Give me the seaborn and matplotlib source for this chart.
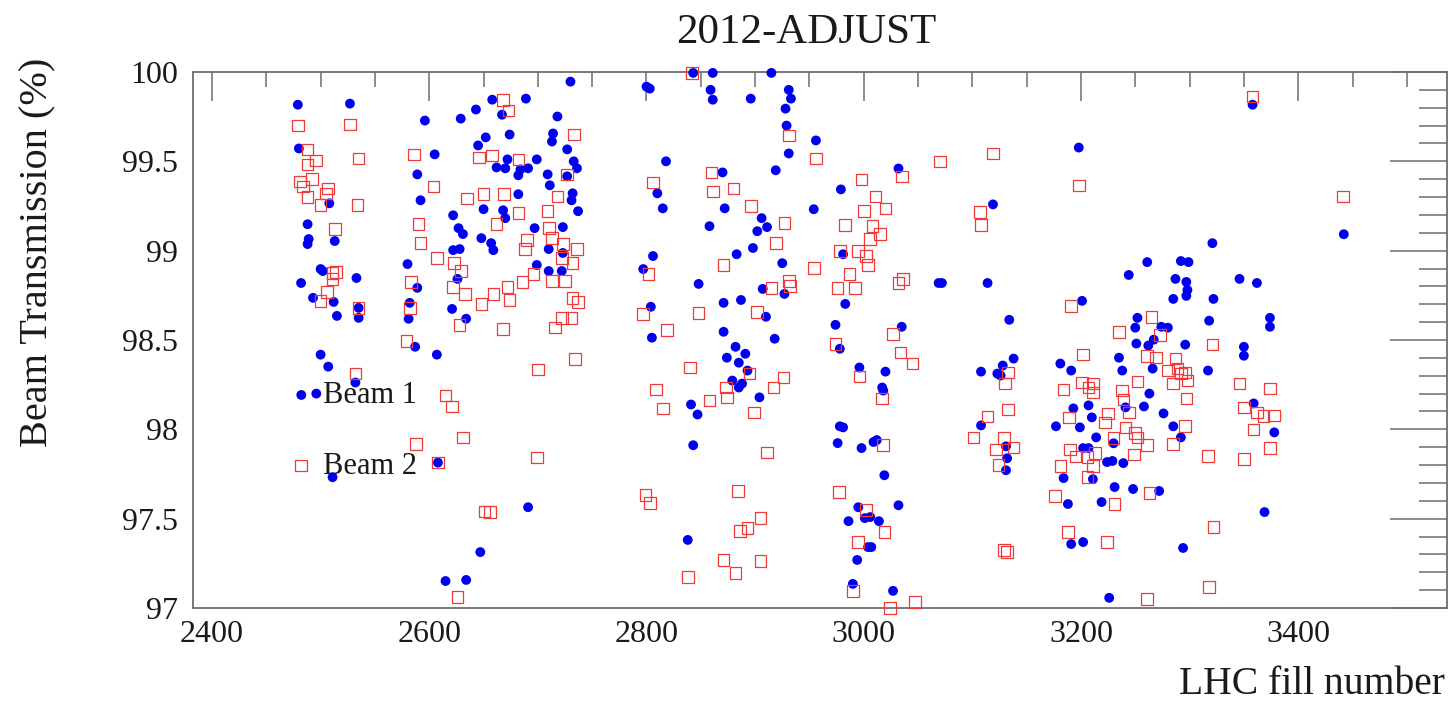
import numpy as np
import pandas as pd
import matplotlib
matplotlib.use("Agg")
import matplotlib.pyplot as plt
import seaborn as sns
from matplotlib.ticker import MultipleLocator, FixedLocator

# ---------------- data ----------------
beam1_fill = [
    2730, 2479, 2527, 2480, 2596, 2605, 2589, 2592, 2629, 2643, 2658, 2667, 2689, 2718, 2652, 2645,
    2674, 2714, 2713, 2727, 2672, 2699, 2662, 2670, 2684, 2691, 2682, 2733, 2736, 2727, 2709, 2711,
    2682, 2732, 2731, 2650, 2668, 2670, 2737, 2508, 2488, 2489, 2488, 2513, 2622, 2627, 2631, 2648,
    2657, 2659, 2622, 2628, 2697, 2723, 2710, 2723, 2580, 2500, 2502, 2589, 2482, 2533, 2493, 2512,
    2535, 2535, 2515, 2582, 2581, 2621, 2634, 2699, 2710, 2722, 2626, 2587, 2607, 2500, 2507, 2532,
    2496, 2608, 2511, 2691, 2647, 2615, 2634,
    2800, 2803, 2843, 2861, 2859, 2861, 2896, 2915, 2931, 2933, 2928, 2929, 2931, 2956, 2818, 2810,
    2815, 2870, 2872, 2858, 2919, 2906, 2911, 2902, 2898, 2883, 2954, 2979, 3032, 2981, 2806, 2797,
    2925, 2848, 2907, 2927, 3069, 2871, 2887, 2910, 2983, 2804, 2805, 2871, 2918, 2974, 3035, 2882,
    2874, 2891, 2978, 2885, 2893, 2879, 2888, 2885, 2904, 2841, 2847, 2843, 2996, 3020, 3017, 3018,
    2978, 2981, 2976, 2998, 3009, 3012, 3019, 2838, 2995, 3032, 2986, 3001, 3006, 3014, 3004, 3007,
    2994, 2990, 3027,
    3358, 3198, 3119, 3442, 3321, 3261, 3292, 3299, 3244, 3287, 3297, 3298, 3297, 3285, 3322, 3346,
    3362, 3072, 3114, 3201, 3134, 3318, 3374, 3374, 3252, 3250, 3274, 3280, 3251, 3267, 3262, 3296,
    3350, 3350, 3235, 3138, 3108, 3128, 3123, 3126, 3181, 3191, 3238, 3266, 3317, 3263, 3359, 3378,
    3258, 3276, 3285, 3292, 3193, 3207, 3210, 3241, 3177, 3199, 3214, 3230, 3202, 3207, 3224, 3229,
    3239, 3184, 3211, 3231, 3248, 3272, 3188, 3219, 3369, 3191, 3202, 3294, 3226, 3108, 3131, 3132,
    3131,
]
beam1_trans = [
    99.946, 99.817, 99.823, 99.572, 99.728, 99.539, 99.427, 99.282, 99.739, 99.790, 99.845, 99.761,
    99.851, 99.751, 99.634, 99.589, 99.650, 99.656, 99.611, 99.567, 99.511, 99.511, 99.466, 99.461,
    99.455, 99.461, 99.422, 99.500, 99.461, 99.416, 99.427, 99.366, 99.316, 99.321, 99.282, 99.232,
    99.226, 99.182, 99.221, 99.265, 99.148, 99.065, 99.037, 99.054, 99.198, 99.126, 99.093, 99.070,
    99.042, 99.003, 99.003, 99.009, 99.126, 99.132, 99.009, 98.987, 98.925, 98.897, 98.886, 98.792,
    98.819, 98.847, 98.736, 98.713, 98.680, 98.624, 98.635, 98.708, 98.619, 98.674, 98.619, 98.920,
    98.886, 98.886, 98.842, 98.462, 98.418, 98.418, 98.351, 98.262, 98.200, 97.814, 97.732, 97.564,
    97.313, 97.151, 97.157,
    99.918, 99.907, 99.995, 99.995, 99.900, 99.845, 99.851, 99.995, 99.900, 99.851, 99.795, 99.700,
    99.544, 99.617, 99.500, 99.321, 99.237, 99.438, 99.237, 99.137, 99.450, 99.182, 99.132, 99.109,
    99.015, 98.980, 99.232, 99.343, 99.460, 98.980, 98.970, 98.897, 98.930, 98.814, 98.786, 98.758,
    98.819, 98.708, 98.724, 98.630, 98.702, 98.686, 98.513, 98.546, 98.507, 98.585, 98.574, 98.462,
    98.401, 98.423, 98.451, 98.373, 98.329, 98.273, 98.256, 98.234, 98.179, 98.139, 98.083, 97.911,
    98.346, 98.323, 98.234, 98.217, 98.017, 98.011, 97.923, 97.895, 97.929, 97.940, 97.743, 97.381,
    97.564, 97.575, 97.486, 97.503, 97.509, 97.486, 97.341, 97.341, 97.269, 97.135, 97.096,
    99.817, 99.577, 99.259, 99.092, 99.042, 98.936, 98.942, 98.936, 98.864, 98.842, 98.825, 98.780,
    98.747, 98.730, 98.730, 98.842, 98.819, 98.819, 98.819, 98.719, 98.613, 98.608, 98.624, 98.574,
    98.624, 98.569, 98.574, 98.569, 98.480, 98.502, 98.469, 98.474, 98.462, 98.412, 98.401, 98.396,
    98.323, 98.357, 98.312, 98.301, 98.368, 98.329, 98.329, 98.340, 98.329, 98.200, 98.145, 97.983,
    98.128, 98.089, 98.017, 97.955, 98.117, 98.134, 98.067, 98.123, 98.017, 98.011, 97.955, 97.922,
    97.895, 97.895, 97.817, 97.823, 97.811, 97.727, 97.721, 97.677, 97.666, 97.655, 97.582, 97.593,
    97.537, 97.358, 97.369, 97.336, 97.057, 98.022, 97.905, 97.838, 97.771,
]

beam2_fill = [
    2479, 2527, 2668, 2673, 2733, 2488, 2496, 2488, 2535, 2586, 2646, 2658, 2682, 2481, 2492, 2484,
    2507, 2505, 2488, 2500, 2534, 2604, 2635, 2650, 2669, 2718, 2727, 2682, 2709, 2662, 2710, 2513,
    2590, 2592, 2690, 2688, 2713, 2723, 2722, 2732, 2736, 2607, 2623, 2629, 2583, 2686, 2696, 2511,
    2514, 2511, 2506, 2500, 2622, 2633, 2672, 2659, 2648, 2674, 2713, 2725, 2732, 2737, 2535, 2582,
    2628, 2668, 2716, 2722, 2731, 2579, 2734, 2532, 2700, 2615, 2621, 2631, 2588, 2608, 2699, 2651,
    2656, 2626,
    2842, 2931, 2956, 3070, 2806, 2860, 2861, 2880, 2896, 2927, 2919, 2998, 3035, 3011, 3020, 3000,
    2983, 3008, 3015, 3006, 2978, 2995, 3002, 3004, 2871, 2954, 2987, 2976, 2992, 3032, 3036, 2931,
    2932, 2915, 2802, 2797, 2848, 2902, 2819, 3027, 2974, 3034, 2840, 2809, 2815, 2858, 2873, 2874,
    2895, 2899, 2917, 2926, 2911, 3045, 2996, 3017, 3018, 2799, 2803, 2884, 2905, 2886, 2893, 2871,
    2905, 2882, 2838, 2977, 3002, 3019, 2995, 2990, 3047, 3024,
    3358, 3119, 3198, 3107, 3108, 3441, 3191, 3265, 3235, 3273, 3321, 3202, 3261, 3269, 3287, 3133,
    3130, 3280, 3289, 3292, 3285, 3298, 3296, 3297, 3252, 3201, 3207, 3211, 3211, 3184, 3238, 3239,
    3346, 3374, 3350, 3362, 3368, 3378, 3359, 3374, 3350, 3317, 3296, 3285, 3225, 3244, 3189, 3222,
    3241, 3250, 3252, 3261, 3230, 3190, 3195, 3206, 3213, 3211, 3249, 3181, 3206, 3263, 3176, 3231,
    3322, 3188, 3224, 3129, 3132, 3318, 3261, 3114, 3101, 3133, 3129, 3122, 3138, 3124,
]
beam2_trans = [
    99.700, 99.706, 99.845, 99.784, 99.650, 99.567, 99.505, 99.483, 99.516, 99.539, 99.522, 99.533,
    99.511, 99.388, 99.400, 99.360, 99.349, 99.321, 99.299, 99.254, 99.254, 99.360, 99.293, 99.316,
    99.316, 99.304, 99.427, 99.210, 99.221, 99.148, 99.126, 99.121, 99.148, 99.042, 99.059, 99.009,
    99.070, 99.037, 98.959, 98.931, 99.009, 98.959, 98.931, 98.886, 98.825, 98.825, 98.870, 98.875,
    98.881, 98.842, 98.769, 98.719, 98.797, 98.758, 98.797, 98.758, 98.702, 98.724, 98.830, 98.830,
    98.736, 98.713, 98.680, 98.680, 98.585, 98.563, 98.569, 98.624, 98.624, 98.496, 98.395, 98.312,
    98.334, 98.190, 98.128, 97.955, 97.917, 97.814, 97.842, 97.540, 97.536, 97.063,
    99.995, 99.645, 99.516, 99.500, 99.382, 99.438, 99.332, 99.349, 99.249, 99.154, 99.042, 99.399,
    99.416, 99.304, 99.237, 99.221, 99.143, 99.137, 99.093, 99.065, 98.998, 98.998, 98.970, 98.920,
    98.920, 98.903, 98.869, 98.791, 98.791, 98.819, 98.842, 98.830, 98.803, 98.791, 98.869, 98.646,
    98.652, 98.658, 98.557, 98.535, 98.479, 98.429, 98.346, 98.223, 98.117, 98.161, 98.234, 98.179,
    98.312, 98.095, 98.234, 98.290, 97.871, 98.368, 98.296, 98.173, 97.911, 97.632, 97.587, 97.654,
    97.503, 97.430, 97.447, 97.268, 97.263, 97.196, 97.174, 97.648, 97.548, 97.425, 97.369, 97.096,
    97.035, 97.001,
    99.862, 99.544, 99.365, 99.215, 99.142, 99.304, 98.691, 98.630, 98.546, 98.529, 98.474, 98.418,
    98.412, 98.401, 98.396, 98.318, 98.257, 98.329, 98.340, 98.312, 98.257, 98.273, 98.318, 98.173,
    98.268, 98.262, 98.234, 98.257, 98.207, 98.223, 98.218, 98.168, 98.257, 98.229, 98.123, 98.095,
    98.073, 98.078, 97.999, 97.894, 97.833, 97.851, 98.017, 97.917, 98.089, 98.095, 98.067, 98.039,
    98.011, 97.978, 97.955, 97.911, 97.950, 97.888, 97.849, 97.844, 97.866, 97.794, 97.860, 97.794,
    97.732, 97.643, 97.626, 97.582, 97.453, 97.425, 97.369, 97.325, 97.313, 97.118, 97.051, 98.072,
    97.955, 98.111, 97.950, 97.888, 97.899, 97.799,
]

series_labels = ["Beam 1", "Beam 2"]
title_text = "2012-ADJUST"
x_title = "LHC fill number"
y_title = "Beam Transmission (%)"
x_tick_values = [2400, 2600, 2800, 3000, 3200, 3400]
y_tick_values = [97, 97.5, 98, 98.5, 99, 99.5, 100]
y_tick_labels = ["97", "97.5", "98", "98.5", "99", "99.5", "100"]

df1 = pd.DataFrame({"fill": beam1_fill, "trans": beam1_trans})
df2 = pd.DataFrame({"fill": beam2_fill, "trans": beam2_trans})

# ---------------- style ----------------
sns.set_style("white")
plt.rcParams["font.family"] = ["Liberation Serif", "DejaVu Serif"]
plt.rcParams["text.color"] = "#1a1a1a"

W, H = 1451, 703
fig = plt.figure(figsize=(W / 100, H / 100), dpi=100)
L, R, T, B = 193, 1447, 72, 608
ax = fig.add_axes([L / W, 1 - B / H, (R - L) / W, (B - T) / H])

sns.scatterplot(data=df1, x="fill", y="trans", ax=ax, marker="o", s=50,
                color="#0000f0", edgecolor="none", linewidth=0, label=series_labels[0],
                clip_on=False, zorder=3)
sns.scatterplot(data=df2, x="fill", y="trans", ax=ax, marker="s", s=70,
                facecolor="none", edgecolor="#f03a3a", linewidth=0.9, label=series_labels[1],
                clip_on=False, zorder=4)

ax.set_xlim(2382.5, 3537)
ax.set_ylim(97, 100)

ax.xaxis.set_major_locator(FixedLocator(x_tick_values))
ax.xaxis.set_minor_locator(MultipleLocator(50))
ax.yaxis.set_major_locator(FixedLocator(y_tick_values))
ax.set_yticklabels(y_tick_labels)
ax.yaxis.set_minor_locator(MultipleLocator(0.1))

axis_col = "#6e6e6e"
for sp in ax.spines.values():
    sp.set_visible(True)
    sp.set_color(axis_col)
    sp.set_linewidth(1.3)

ax.tick_params(axis="both", which="both", direction="in", top=True, right=True,
               color=axis_col, width=1.1, labelcolor="#1a1a1a", labelsize=23)
ax.tick_params(axis="x", which="major", length=21, pad=9)
ax.tick_params(axis="x", which="minor", length=10.5)
ax.tick_params(axis="y", which="major", length=41, pad=11)
ax.tick_params(axis="y", which="minor", length=20)

ax.set_xlabel("")
ax.set_ylabel("")

fig.text(806 / W, 1 - 33 / H, title_text, ha="center", va="center", fontsize=31)
fig.text(1445 / W, 1 - 685 / H, x_title, ha="right", va="center", fontsize=28.5)
fig.text(38 / W, 1 - 58 / H, y_title, ha="center", va="top", rotation=90, fontsize=29)

leg = ax.legend(loc="upper left", bbox_to_anchor=(286 / W, 1 - 381 / H),
                bbox_transform=fig.transFigure, frameon=False, fontsize=22,
                handlelength=1.0, handletextpad=0.2, labelspacing=1.36,
                borderpad=0, borderaxespad=0)

fig.savefig("out.png", dpi=100, facecolor="white")
